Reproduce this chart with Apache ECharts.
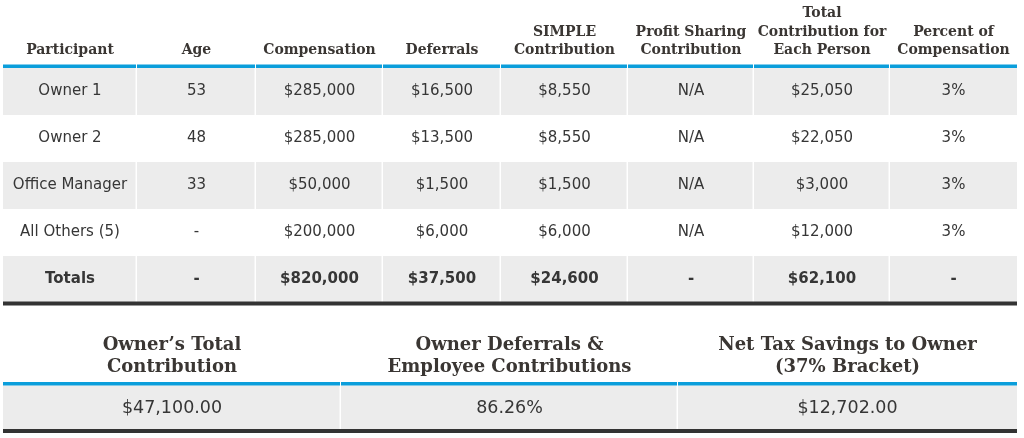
<!DOCTYPE html>
<html>
<head>
<meta charset="utf-8">
<script src="https://cdn.jsdelivr.net/npm/echarts@6/dist/echarts.min.js"></script>
<style>
html,body{margin:0;padding:0;background:#fff;}
#chart{width:1024px;height:438px;}
</style>
</head>
<body>
<div id="chart"></div>
<script>
// ---- data ----
var headers = ['Participant', 'Age', 'Compensation', 'Deferrals', 'SIMPLE\nContribution', 'Profit Sharing\nContribution', 'Total\nContribution for\nEach Person', 'Percent of\nCompensation'];
var participants = ['Owner 1', 'Owner 2', 'Office Manager', 'All Others (5)', 'Totals'];
var ages = [53, 48, 33, null, null];
var compensation = [285000, 285000, 50000, 200000, 820000];
var deferrals = [16500, 13500, 1500, 6000, 37500];
var simpleContribution = [8550, 8550, 1500, 6000, 24600];
var profitSharing = ['N/A', 'N/A', 'N/A', 'N/A', '-'];
var totalContribution = [25050, 22050, 3000, 12000, 62100];
var percentOfComp = ['3%', '3%', '3%', '3%', '-'];
var summaryHeaders = ['Owner\u2019s Total\nContribution', 'Owner Deferrals &\nEmployee Contributions', 'Net Tax Savings to Owner\n(37% Bracket)'];
var summaryValues = ['$47,100.00', '86.26%', '$12,702.00'];

// ---- layout (not data) ----
var COL_WIDTHS = [134, 119, 127, 118, 127, 126, 136, 127];
var SUM_WIDTHS = [338, 337, 339];
var BLUE = '#0b9edb', DARK = '#333333', GRAY = '#ececec', TXT = '#363636', HEAD = '#3a3633';
var SERIF = '"DejaVu Serif", serif', SANS = '"DejaVu Sans", sans-serif';

function edges(w) { var e = [0]; w.forEach(function (v) { e.push(e[e.length - 1] + v); }); return e; }
var colEdges = edges(COL_WIDTHS), sumEdges = edges(SUM_WIDTHS);
function money(v) { return '$' + v.toLocaleString('en-US'); }

var columns = [
  participants,
  ages.map(function (a) { return a == null ? '-' : String(a); }),
  compensation.map(money),
  deferrals.map(money),
  simpleContribution.map(money),
  profitSharing,
  totalContribution.map(money),
  percentOfComp
];

var cells = [];
for (var r = 0; r < participants.length; r++) {
  for (var c = 0; c < columns.length; c++) cells.push([c, r]);
}
var sumCells = summaryValues.map(function (v, i) { return [i, 0]; });

function makeRender(edgeArr, heads, texts, nRows, opt) {
  return function (params, api) {
    var c = api.value(0), r = api.value(1);
    var p0 = api.coord([edgeArr[c], r]);
    var p1 = api.coord([edgeArr[c + 1], r]);
    var h = api.size([0, 1])[1];
    var top = p0[1] - h / 2;
    var x0 = p0[0], w = p1[0] - p0[0];
    var last = c === edgeArr.length - 2;
    var children = [];
    children.push({
      type: 'rect',
      shape: { x: x0, y: top, width: w - (last ? 0 : 1.5), height: h },
      style: { fill: r % 2 === 0 ? GRAY : '#ffffff' }
    });
    var isTotal = opt.boldLast && r === nRows - 1;
    children.push({
      type: 'text',
      style: {
        x: x0 + w / 2, y: top + h / 2, text: texts(c, r),
        align: 'center', verticalAlign: 'middle',
        fill: TXT, fontSize: opt.fontSize, fontFamily: SANS,
        fontWeight: isTotal ? 'bold' : 'normal'
      }
    });
    if (r === 0) {
      children.push({
        type: 'rect',
        shape: { x: x0, y: top - 3.5, width: w - (last ? 0 : 1), height: 3.5 },
        style: { fill: BLUE }
      });
      children.push({
        type: 'text',
        style: {
          x: x0 + w / 2, y: top - opt.headGap, text: heads[c],
          align: 'center', verticalAlign: 'bottom',
          fill: HEAD, fontSize: opt.headSize, fontFamily: SERIF, fontWeight: 'bold',
          lineHeight: opt.headLine
        }
      });
    }
    if (r === nRows - 1) {
      children.push({
        type: 'rect',
        shape: { x: x0, y: top + h - 1.5, width: w, height: 4 },
        style: { fill: DARK }
      });
    }
    return { type: 'group', children: children };
  };
}

var chart = echarts.init(document.getElementById('chart'), null, { renderer: 'canvas' });
chart.setOption({
  animation: false,
  grid: [
    { left: 3, width: 1014, top: 68, height: 235 },
    { left: 3, width: 1014, top: 385.5, height: 45 }
  ],
  xAxis: [
    { gridIndex: 0, type: 'value', min: 0, max: colEdges[colEdges.length - 1], show: false },
    { gridIndex: 1, type: 'value', min: 0, max: sumEdges[sumEdges.length - 1], show: false }
  ],
  yAxis: [
    { gridIndex: 0, type: 'category', data: participants, inverse: true, show: false },
    { gridIndex: 1, type: 'category', data: ['summary'], inverse: true, show: false }
  ],
  series: [
    {
      type: 'custom', xAxisIndex: 0, yAxisIndex: 0, clip: false, data: cells,
      renderItem: makeRender(colEdges, headers, function (c, r) { return columns[c][r]; }, participants.length,
        { fontSize: 15, headSize: 14, headGap: 8, headLine: 18.5, boldLast: true })
    },
    {
      type: 'custom', xAxisIndex: 1, yAxisIndex: 1, clip: false, data: sumCells,
      renderItem: makeRender(sumEdges, summaryHeaders, function (c) { return summaryValues[c]; }, 1,
        { fontSize: 17.5, headSize: 18, headGap: 7, headLine: 22, boldLast: false })
    }
  ]
});
</script>
</body>
</html>
